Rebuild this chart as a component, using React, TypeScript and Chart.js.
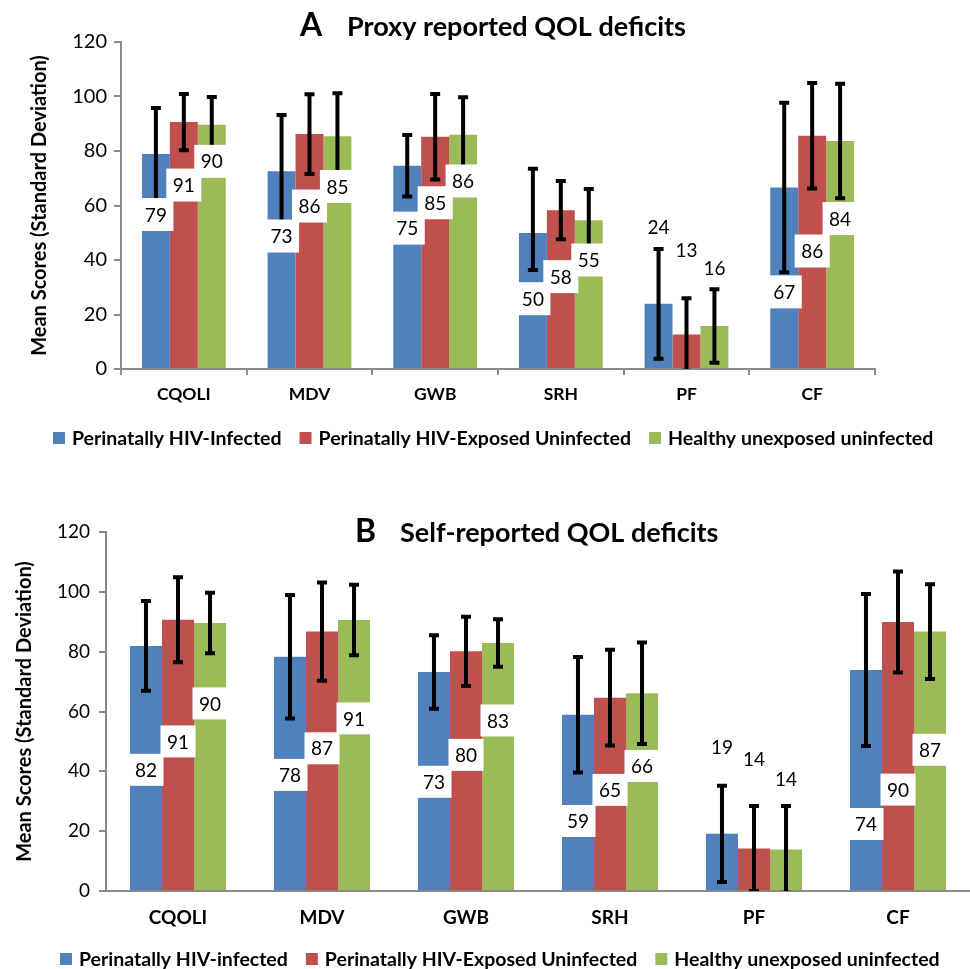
import React, { useEffect, useRef } from 'react';
import { Chart, registerables } from 'chart.js';

Chart.register(...registerables);

// ---------- data ----------
const categories = ['CQOLI', 'MDV', 'GWB', 'SRH', 'PF', 'CF'];

const seriesNamesA = [
  'Perinatally HIV-Infected',
  'Perinatally HIV-Exposed Uninfected',
  'Healthy unexposed uninfected',
];
const seriesNamesB = [
  'Perinatally HIV-infected',
  'Perinatally HIV-Exposed Uninfected',
  'Healthy unexposed uninfected',
];

// A: Proxy reported (means, error below, error above, where the value label sits on the y scale)
const proxyInfected = [78.9, 72.6, 74.6, 49.9, 23.9, 66.6];
const proxyExposed = [90.6, 86.2, 85.2, 58.3, 12.7, 85.6];
const proxyHealthy = [89.6, 85.4, 86.0, 54.6, 15.8, 83.7];
const proxyInfectedSD = [16.9, 20.6, 11.3, 13.6, 20.1, 31.1];
const proxyInfectedSDUp = [16.9, 20.6, 11.3, 23.6, 20.1, 31.1];
const proxyExposedSD = [10.3, 14.6, 15.7, 10.7, 13.3, 19.4];
const proxyHealthySD = [10.2, 15.8, 13.7, 11.5, 13.5, 21.0];
const proxyInfectedLabelAt = [56.7, 48.8, 51.7, 25.8, 52.1, 28.3];
const proxyExposedLabelAt = [67.5, 59.8, 61.0, 33.9, 43.6, 43.3];
const proxyHealthyLabelAt = [76.2, 67.0, 69.0, 40.0, 37.2, 55.2];

// B: Self-reported
const selfInfected = [81.9, 78.3, 73.2, 58.9, 19.1, 73.9];
const selfExposed = [90.7, 86.7, 80.1, 64.6, 14.2, 89.9];
const selfHealthy = [89.6, 90.6, 82.9, 66.1, 13.9, 86.7];
const selfInfectedSD = [15.0, 20.6, 12.3, 19.3, 16.1, 25.4];
const selfExposedSD = [14.2, 16.4, 11.6, 16.0, 14.2, 16.9];
const selfHealthySD = [10.1, 11.8, 7.9, 17.0, 14.5, 15.8];
const selfInfectedLabelAt = [40.5, 38.8, 36.5, 23.4, 48.3, 22.4];
const selfExposedLabelAt = [50.0, 47.7, 45.5, 33.8, 44.3, 33.9];
const selfHealthyLabelAt = [62.7, 57.7, 57.0, 41.8, 37.6, 47.2];

const yTicks = { min: 0, max: 120, step: 20 };

// ---------- styles ----------
const COLORS = ['#4F81BD', '#C0504D', '#9BBB59'];
const AXIS = '#8a8a8a';
const FONT = 'Lato, "Open Sans", sans-serif';

type PanelCfg = {
  letter: string;
  title: string;
  names: string[];
  values: number[][];
  sds: number[][];
  sdsUp: number[][];
  labelAt: number[][];
  width: number;
  height: number;
  area: { left: number; right: number; top: number; bottom: number };
  titleBaseline: number;
  letterX: number;
  titleX: number;
  legendY: number;
  legendX: number;
  xTicksShown: boolean;
  yTickSize: number;
  xTickSize: number;
  yTitleX: number;
  yTickPad: number;
  xTickPad: number;
  labelSize: number;
  boxH: number;
};

const overlayPlugin = {
  id: 'overlay',
  afterDatasetsDraw(chart: any, _args: any, opts: any) {
    const { ctx, chartArea } = chart;
    const ys = chart.scales.y;
    // error bars
    ctx.save();
    ctx.beginPath();
    ctx.rect(chartArea.left, chartArea.top, chartArea.right - chartArea.left, chartArea.bottom - chartArea.top);
    ctx.clip();
    ctx.strokeStyle = '#000';
    ctx.lineWidth = 4;
    ctx.lineCap = 'butt';
    chart.data.datasets.forEach((ds: any, di: number) => {
      const meta = chart.getDatasetMeta(di);
      meta.data.forEach((bar: any, i: number) => {
        const v = ds.data[i];
        const x = bar.x;
        const yt = ys.getPixelForValue(v + ds.sdUp[i]);
        const yb = ys.getPixelForValue(v - ds.sd[i]);
        const c = 5;
        ctx.beginPath();
        ctx.moveTo(x, yt);
        ctx.lineTo(x, yb);
        ctx.moveTo(x - c, yt);
        ctx.lineTo(x + c, yt);
        ctx.moveTo(x - c, yb);
        ctx.lineTo(x + c, yb);
        ctx.stroke();
      });
    });
    ctx.restore();
    // value labels
    ctx.save();
    ctx.font = `${opts.labelSize}px ${FONT}`;
    ctx.textAlign = 'center';
    ctx.textBaseline = 'middle';
    chart.data.datasets.forEach((ds: any, di: number) => {
      const meta = chart.getDatasetMeta(di);
      meta.data.forEach((bar: any, i: number) => {
        const text = String(Math.round(ds.data[i]));
        const x = bar.x;
        const y = ys.getPixelForValue(ds.labelAt[i]);
        const w = ctx.measureText(text).width + 13;
        const h = opts.boxH;
        ctx.fillStyle = '#fff';
        ctx.fillRect(x - w / 2, y - h / 2, w, h);
        ctx.fillStyle = '#000';
        ctx.fillText(text, x, y + 1);
      });
    });
    ctx.restore();
  },
  afterDraw(chart: any, _args: any, opts: any) {
    const { ctx } = chart;
    ctx.save();
    // title
    ctx.fillStyle = '#000';
    ctx.textBaseline = 'alphabetic';
    ctx.textAlign = 'left';
    ctx.font = `bold 32px ${FONT}`;
    ctx.fillText(opts.letter, opts.letterX, opts.titleBaseline);
    ctx.font = `bold 27px ${FONT}`;
    ctx.fillText(opts.title, opts.titleX, opts.titleBaseline);
    // legend
    ctx.font = `bold 19.5px ${FONT}`;
    ctx.textBaseline = 'middle';
    let x = opts.legendX;
    chart.data.datasets.forEach((ds: any) => {
      ctx.fillStyle = ds.backgroundColor;
      ctx.fillRect(x, opts.legendY - 6, 12, 12);
      x += 12 + 7;
      ctx.fillStyle = '#000';
      ctx.fillText(ds.label, x, opts.legendY + 1);
      x += ctx.measureText(ds.label).width + 18;
    });
    ctx.restore();
  },
};

function Panel({ cfg, top }: { cfg: PanelCfg; top: number }) {
  const ref = useRef<HTMLCanvasElement | null>(null);
  useEffect(() => {
    if (!ref.current) return;
    const a = cfg.area;
    const xH = 40;
    const chart = new Chart(ref.current, {
      type: 'bar',
      data: {
        labels: categories,
        datasets: cfg.names.map((n, k) => ({
          label: n,
          data: cfg.values[k],
          sd: cfg.sds[k],
          sdUp: cfg.sdsUp[k],
          labelAt: cfg.labelAt[k],
          backgroundColor: COLORS[k],
          borderWidth: 0,
          categoryPercentage: 0.667,
          barPercentage: 1.0,
        })) as any,
      },
      options: {
        responsive: false,
        animation: false,
        devicePixelRatio: 1,
        layout: {
          padding: {
            left: 0,
            right: cfg.width - a.right,
            top: a.top,
            bottom: cfg.height - a.bottom - xH,
          },
        },
        plugins: {
          legend: { display: false },
          title: { display: false },
          tooltip: { enabled: false },
          overlay: {
            letter: cfg.letter,
            title: cfg.title,
            titleBaseline: cfg.titleBaseline,
            letterX: cfg.letterX,
            titleX: cfg.titleX,
            legendY: cfg.legendY,
            legendX: cfg.legendX,
            labelSize: cfg.labelSize,
            boxH: cfg.boxH,
          },
        } as any,
        scales: {
          x: {
            afterFit: (s: any) => {
              s.height = xH;
            },
            grid: {
              display: cfg.xTicksShown,
              drawOnChartArea: false,
              drawTicks: cfg.xTicksShown,
              tickLength: 6,
              color: AXIS,
              lineWidth: 2,
              offset: true,
            },
            border: { display: true, color: AXIS, width: 2 },
            ticks: {
              color: '#000',
              padding: cfg.xTickPad,
              font: { family: FONT, size: cfg.xTickSize, weight: 'bold' },
              maxRotation: 0,
            },
          },
          y: {
            min: yTicks.min,
            max: yTicks.max,
            afterFit: (s: any) => {
              s.width = a.left;
            },
            grid: {
              drawOnChartArea: false,
              drawTicks: true,
              tickLength: 7,
              color: AXIS,
              lineWidth: 2,
            },
            border: { display: true, color: AXIS, width: 2 },
            ticks: {
              stepSize: yTicks.step,
              color: '#000',
              padding: cfg.yTickPad,
              font: { family: FONT, size: cfg.yTickSize },
            },
            title: {
              display: true,
              text: 'Mean Scores (Standard Deviation)',
              color: '#000',
              font: { family: FONT, size: 20, weight: 'bold' },
              padding: { top: cfg.yTitleX - 12, bottom: 0 },
            },
          },
        },
      },
      plugins: [overlayPlugin as any],
    });
    return () => chart.destroy();
  }, [cfg]);
  return (
    <canvas
      ref={ref}
      width={cfg.width}
      height={cfg.height}
      style={{ position: 'absolute', left: 0, top, display: 'block' }}
    />
  );
}

const panelA: PanelCfg = {
  letter: 'A',
  title: 'Proxy reported QOL deficits',
  names: seriesNamesA,
  values: [proxyInfected, proxyExposed, proxyHealthy],
  sds: [proxyInfectedSD, proxyExposedSD, proxyHealthySD],
  sdsUp: [proxyInfectedSDUp, proxyExposedSD, proxyHealthySD],
  labelAt: [proxyInfectedLabelAt, proxyExposedLabelAt, proxyHealthyLabelAt],
  width: 970,
  height: 480,
  area: { left: 121, right: 875, top: 42, bottom: 369 },
  titleBaseline: 36,
  letterX: 300,
  titleX: 347,
  legendY: 438,
  legendX: 53,
  xTicksShown: true,
  yTickSize: 20,
  xTickSize: 17.5,
  yTitleX: 40,
  yTickPad: 7,
  xTickPad: 9,
  labelSize: 19,
  boxH: 33,
};

const panelB: PanelCfg = {
  letter: 'B',
  title: 'Self-reported QOL deficits',
  names: seriesNamesB,
  values: [selfInfected, selfExposed, selfHealthy],
  sds: [selfInfectedSD, selfExposedSD, selfHealthySD],
  sdsUp: [selfInfectedSD, selfExposedSD, selfHealthySD],
  labelAt: [selfInfectedLabelAt, selfExposedLabelAt, selfHealthyLabelAt],
  width: 970,
  height: 489,
  area: { left: 106, right: 970, top: 52, bottom: 411 },
  titleBaseline: 62,
  letterX: 355,
  titleX: 400,
  legendY: 479,
  legendX: 60,
  xTicksShown: false,
  yTickSize: 19,
  xTickSize: 19,
  yTitleX: 25,
  yTickPad: 9,
  xTickPad: 15,
  labelSize: 19,
  boxH: 32,
};

export default function App() {
  return (
    <div style={{ position: 'absolute', left: 0, top: 0, width: 970, height: 969, background: '#fff', overflow: 'hidden' }}>
      <Panel cfg={panelA} top={0} />
      <Panel cfg={panelB} top={480} />
    </div>
  );
}
